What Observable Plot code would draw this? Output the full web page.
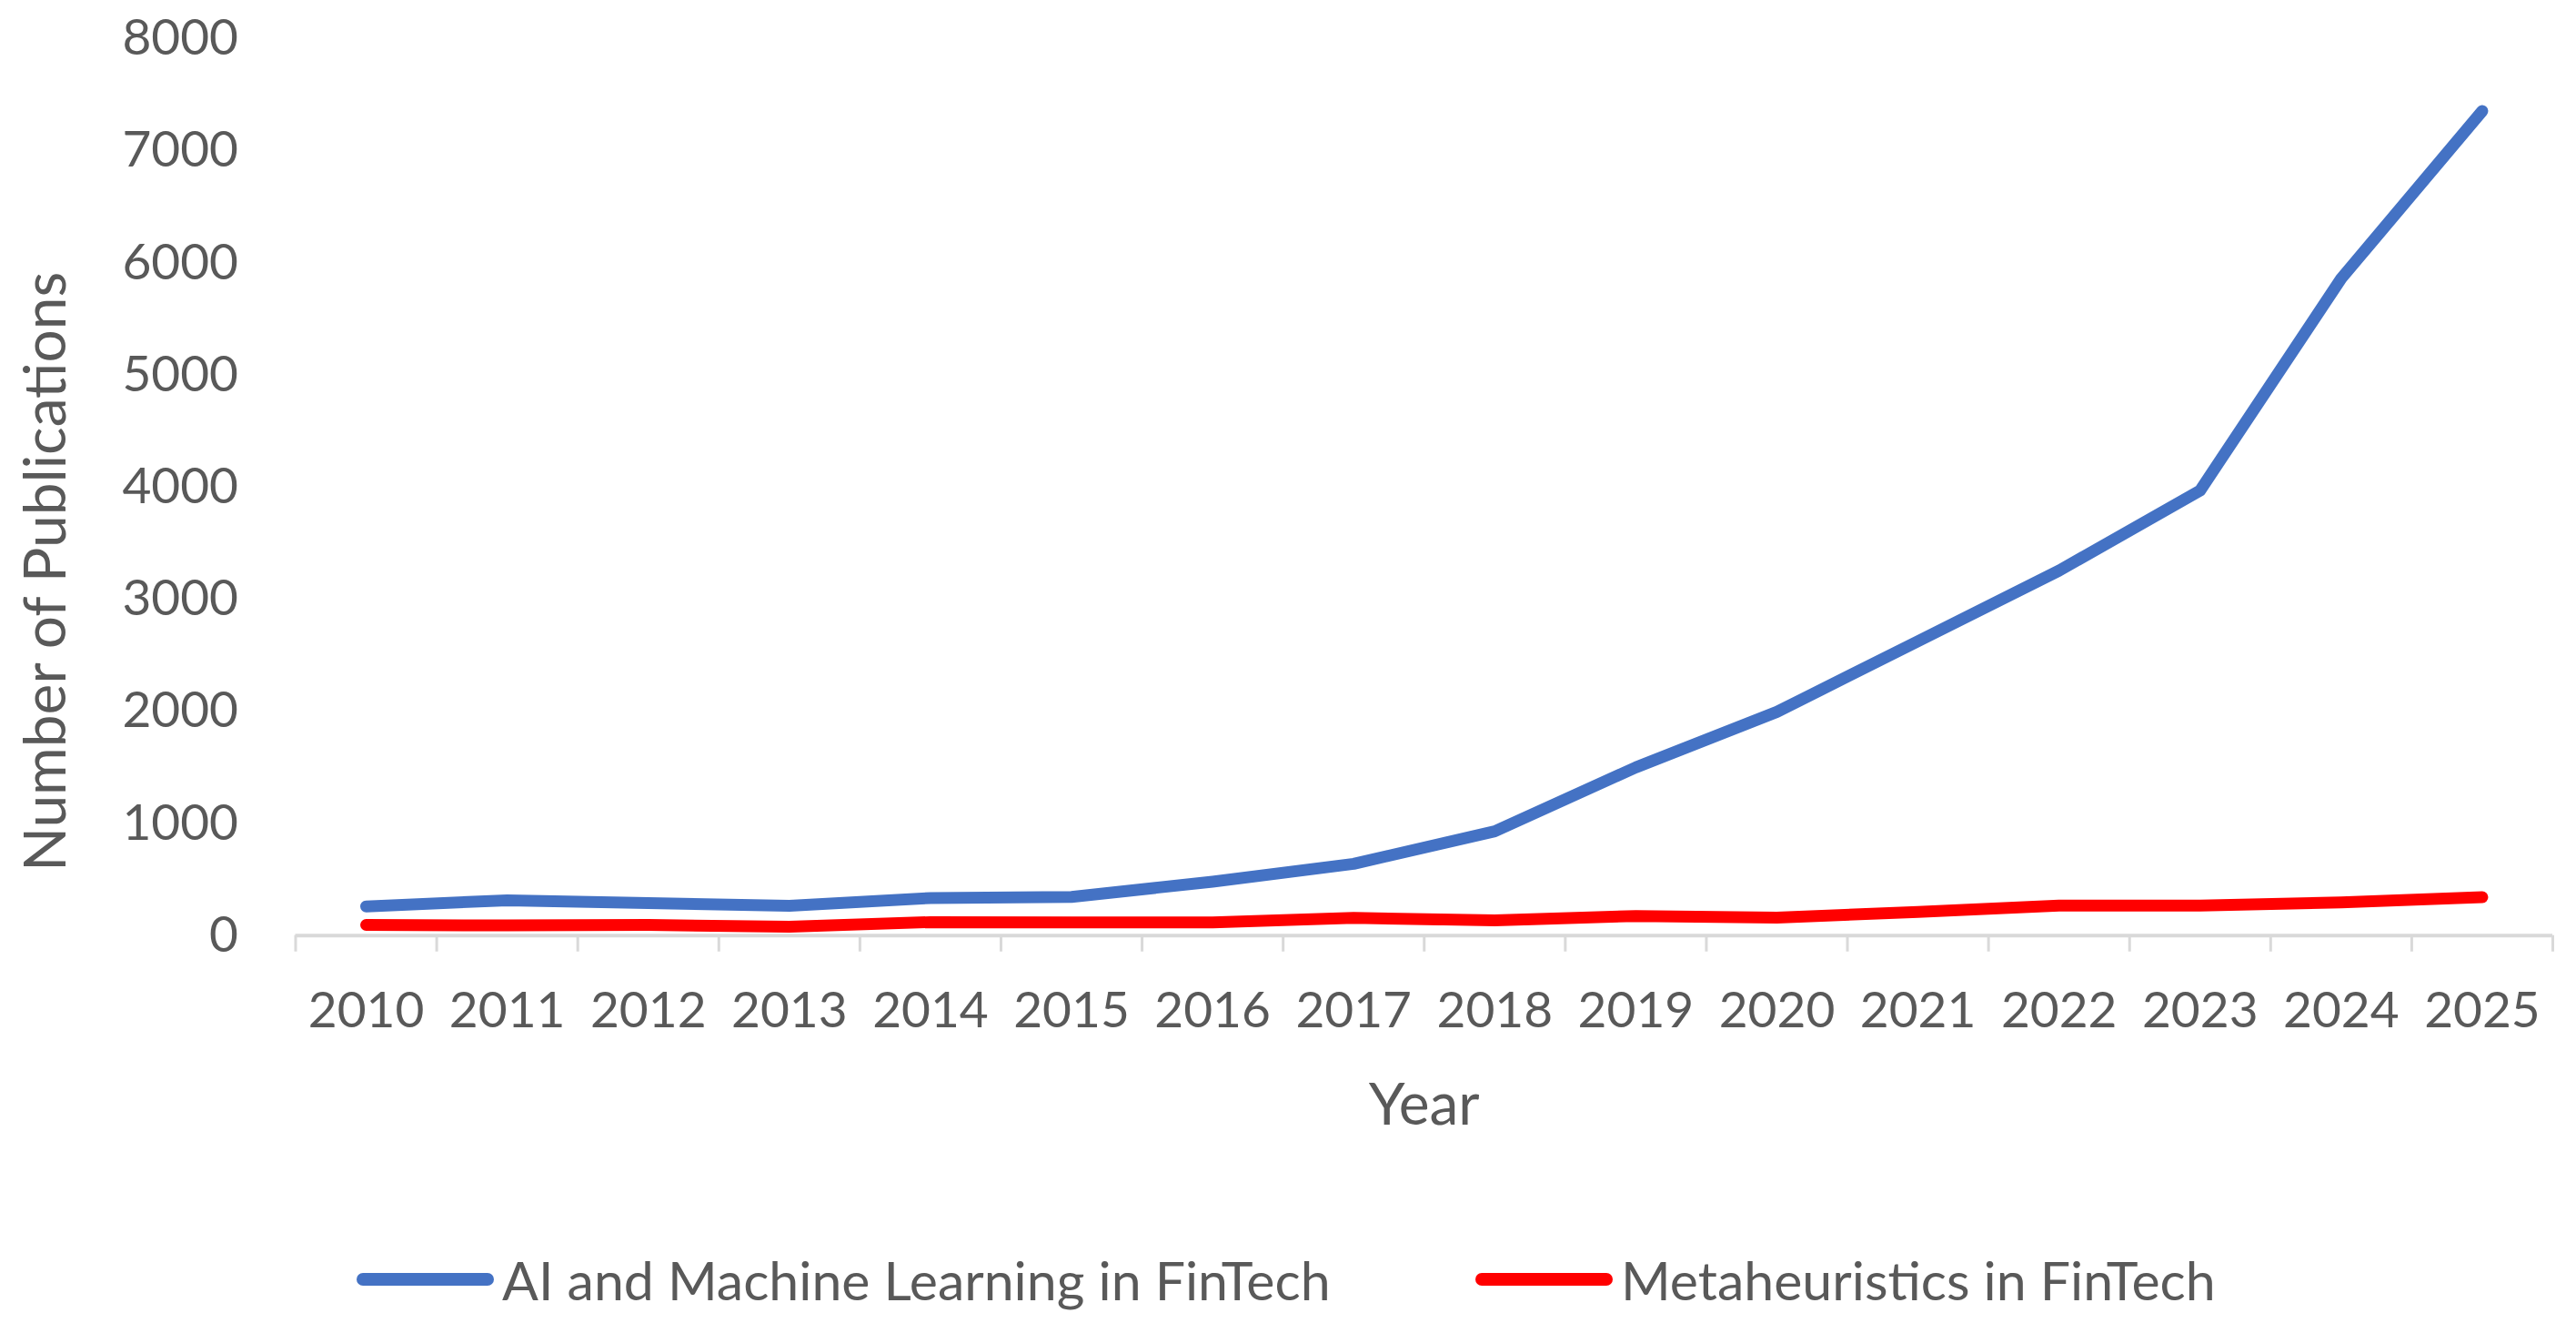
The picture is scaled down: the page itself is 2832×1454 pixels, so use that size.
<!DOCTYPE html>
<html>
<head>
<meta charset="utf-8">
<script src="https://cdn.jsdelivr.net/npm/d3@7"></script>
<script src="https://cdn.jsdelivr.net/npm/@observablehq/plot@0.6"></script>
<style>
  html, body { margin: 0; padding: 0; background: #fff; }
  #wrap { position: relative; width: 2832px; height: 1454px; overflow: hidden; }
  #legend { position: absolute; left: 0; top: 1376px; width: 2832px; height: 60px;
            font-family: Lato, sans-serif; font-size: 59px; color: #595959; white-space: nowrap; }
  .item { position: absolute; top: 0; height: 60px; display: flex; align-items: center; }
  .sw { height: 14px; width: 151px; border-radius: 7px; margin-right: 9px; }
</style>
</head>
<body>
<div id="wrap"><div id="chart"></div><div id="legend"></div></div>
<script>
const years = [2010, 2011, 2012, 2013, 2014, 2015, 2016, 2017, 2018, 2019, 2020, 2021, 2022, 2023, 2024, 2025];
const aiML = [260, 315, 290, 265, 335, 345, 480, 640, 930, 1500, 1995, 2625, 3255, 3970, 5860, 7355];
const metaheuristics = [95, 90, 95, 78, 120, 117, 117, 158, 135, 175, 160, 210, 268, 268, 296, 342];
const seriesNames = ["AI and Machine Learning in FinTech", "Metaheuristics in FinTech"];
const seriesColors = ["#4472C4", "#FF0000"];
const yTicks = [0, 1000, 2000, 3000, 4000, 5000, 6000, 7000, 8000];
const xTitle = "Year";
const yTitle = "Number of Publications";

const table = [
  ...years.map((yr, i) => ({year: yr, value: aiML[i], series: seriesNames[0]})),
  ...years.map((yr, i) => ({year: yr, value: metaheuristics[i], series: seriesNames[1]}))
];
const boundaries = years.map(y => y - 0.5).concat([years[years.length - 1] + 0.5]);

const chart = Plot.plot({
  width: 2832,
  height: 1300,
  marginLeft: 324.5,
  marginRight: 26,
  marginTop: 42,
  marginBottom: 272.3,
  style: {fontFamily: "Lato, sans-serif", fontSize: "55px", color: "#595959", background: "#fff"},
  x: {type: "linear", domain: [boundaries[0], boundaries[boundaries.length - 1]]},
  y: {domain: [0, 8000]},
  color: {domain: seriesNames, range: seriesColors},
  marks: [
    Plot.axisY({ticks: yTicks, tickSize: 0, tickPadding: 63, tickFormat: d => String(d), label: null, fill: "#595959"}),
    Plot.axisX({ticks: years, tickSize: 0, tickPadding: 62, tickFormat: d => String(d), label: null, fill: "#595959"}),
    Plot.axisX({ticks: boundaries, tickSize: 18, tickFormat: () => "", label: null, stroke: "#D9D9D9", strokeWidth: 3}),
    Plot.ruleY([0], {stroke: "#D9D9D9", strokeWidth: 4}),
    Plot.line(table, {x: "year", y: "value", z: "series", stroke: "series", strokeWidth: 13,
      strokeLinecap: "round", strokeLinejoin: "round"}),
    Plot.text([xTitle], {frameAnchor: "bottom", text: d => d, dy: 187, lineAnchor: "middle",
      fontSize: 64, fill: "#595959"}),
    Plot.text([yTitle], {frameAnchor: "left", text: d => d, rotate: -90, dx: -273, dy: 93,
      lineAnchor: "middle", textAnchor: "middle", fontSize: 64, fill: "#595959"})
  ]
});
document.getElementById("chart").appendChild(chart);

const legend = document.getElementById("legend");
const itemLefts = ["392px", "1622px"];
seriesNames.forEach((name, i) => {
  const item = document.createElement("div");
  item.className = "item";
  item.style.left = itemLefts[i];
  const sw = document.createElement("div");
  sw.className = "sw";
  sw.style.background = seriesColors[i];
  const label = document.createElement("span");
  label.textContent = name;
  item.appendChild(sw);
  item.appendChild(label);
  legend.appendChild(item);
});
</script>
</body>
</html>
